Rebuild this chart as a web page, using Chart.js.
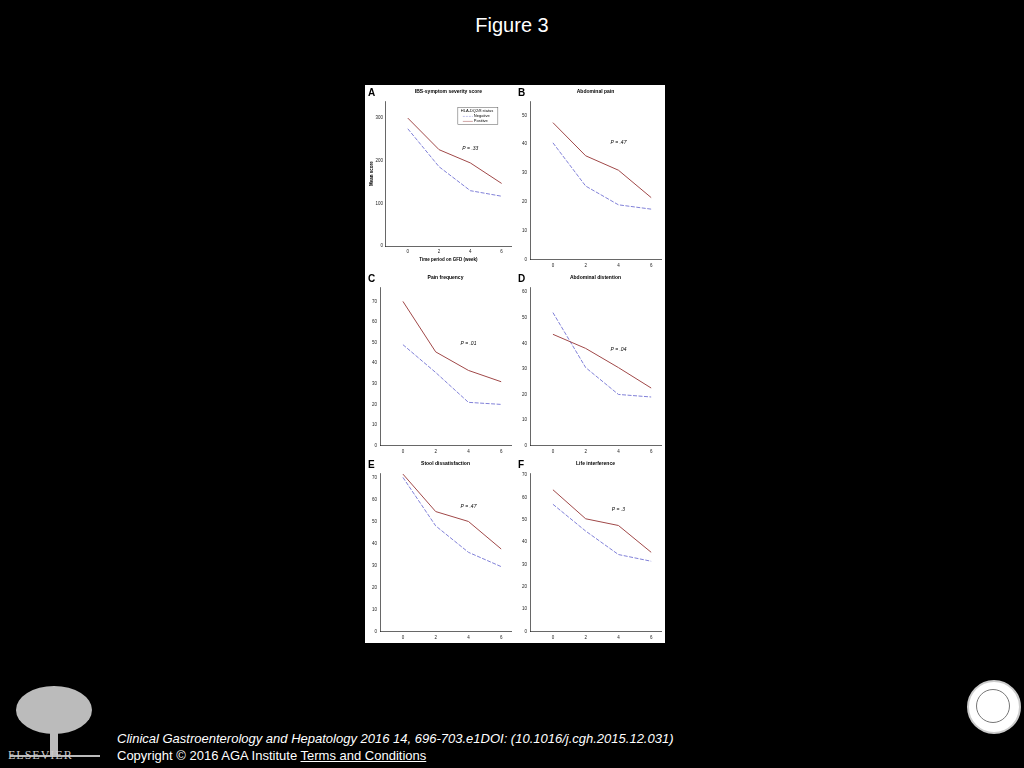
<!DOCTYPE html>
<html><head><meta charset="utf-8">
<script src="https://cdn.jsdelivr.net/npm/chart.js@4"></script>
<style>
body{margin:0;width:1024px;height:768px;background:#000;position:relative;overflow:hidden;font-family:"Liberation Sans",Arial,sans-serif;}
#title{position:absolute;top:14px;left:0;width:1024px;text-align:center;color:#fff;font-size:20px;}
#panel{position:absolute;left:365px;top:85px;width:300px;height:558px;background:#fff;}
.c{position:absolute;width:150px;height:186px;}
#cite{position:absolute;left:117px;top:731px;color:#fff;font-size:13px;font-style:italic;}
#copy{position:absolute;left:117px;top:748px;color:#fff;font-size:13px;}
#copy u{color:#fff;}
#logo{position:absolute;left:10px;top:680px;width:90px;height:85px;}
#seal{position:absolute;left:967px;top:680px;width:50px;height:50px;border-radius:50%;border:2px solid #ccc;background:#fff;}
#seal div{position:absolute;left:7px;top:7px;width:32px;height:32px;border-radius:50%;border:1px solid #777;}
#elsev{position:absolute;left:8px;top:748px;color:#ccc;font-family:"Liberation Serif",serif;font-size:12px;letter-spacing:1px;}
</style></head><body>
<div id="title">Figure 3</div>
<div id="panel">
<div class="c" style="left:0;top:0"><canvas id="cA"></canvas></div>
<div class="c" style="left:150px;top:0"><canvas id="cB"></canvas></div>
<div class="c" style="left:0;top:186px"><canvas id="cC"></canvas></div>
<div class="c" style="left:150px;top:186px"><canvas id="cD"></canvas></div>
<div class="c" style="left:0;top:372px"><canvas id="cE"></canvas></div>
<div class="c" style="left:150px;top:372px"><canvas id="cF"></canvas></div>
</div>
<svg id="logo" viewBox="0 0 90 85"><g fill="#bbb"><rect x="40" y="40" width="8" height="35"/><ellipse cx="44" cy="30" rx="38" ry="24"/></g><rect x="0" y="75" width="90" height="2" fill="#bbb"/></svg>
<div id="elsev">ELSEVIER</div>
<div id="seal"><div></div></div>
<div id="cite">Clinical Gastroenterology and Hepatology 2016 14, 696-703.e1DOI: (10.1016/j.cgh.2015.12.031)</div>
<div id="copy">Copyright © 2016 AGA Institute <u>Terms and Conditions</u></div>
<script>
const weeks=[0,2,4,6];
const titles=["IBS-symptom severity score","Abdominal pain","Pain frequency","Abdominal distention","Stool dissatisfaction","Life interference"];
const letters=["A","B","C","D","E","F"];
const positiveA=[300,226,195,147], negativeA=[275,186,130,117];
const positiveB=[47.5,36,31,21.5], negativeB=[40.5,25.5,19,17.5];
const positiveC=[70,45.5,36.5,31], negativeC=[49,35.5,21,20];
const positiveD=[43.5,38,30.5,22.5], negativeD=[52,30.5,20,19];
const positiveE=[71.5,54.5,50,37.5], negativeE=[70,48,36,29.5];
const positiveF=[63.5,50.5,47.5,35.5], negativeF=[57,45,34.5,31.5];
const pvalues=["P = .33","P = .47","P = .01","P = .04","P = .47","P = .3"];
const yMax=[340,55,77,62,72,71], yStep=[100,10,10,10,10,10];
const pPos=[[4,226],[4,40],[4,49],[4,37],[4,56],[4,54]];
const pos=[positiveA,positiveB,positiveC,positiveD,positiveE,positiveF];
const neg=[negativeA,negativeB,negativeC,negativeD,negativeE,negativeF];
const ids=["cA","cB","cC","cD","cE","cF"];
const F={family:"Liberation Sans",size:4.5};
ids.forEach((id,i)=>{
 const annot={id:'annot',afterDraw(ch){
  const c=ch.ctx,xs=ch.scales.x,ys=ch.scales.y;
  c.save();c.fillStyle='#000';
  c.font='bold 10px Liberation Sans';c.fillText(letters[i],3,11);
  c.font='bold 5px Liberation Sans';c.textAlign='center';
  c.fillText(titles[i],(ch.chartArea.left+ch.chartArea.right)/2,8);
  c.font='italic 5px Liberation Sans';
  c.fillText(pvalues[i],xs.getPixelForValue(pPos[i][0]),ys.getPixelForValue(pPos[i][1]));
  if(i===0){
   const x0=xs.getPixelForValue(3.2),y0=ys.getPixelForValue(325);
   c.strokeStyle='#555';c.lineWidth=0.5;c.strokeRect(x0,y0,40,17);
   c.textAlign='left';c.font='4px Liberation Sans';
   c.fillText('HLA-DQ2/8 status',x0+3,y0+5);
   c.fillText('Negative',x0+16,y0+10);c.fillText('Positive',x0+16,y0+15);
   c.setLineDash([2,1]);c.strokeStyle='#8080d8';c.beginPath();c.moveTo(x0+5,y0+9);c.lineTo(x0+15,y0+9);c.stroke();
   c.setLineDash([]);c.strokeStyle='#a04848';c.beginPath();c.moveTo(x0+5,y0+14);c.lineTo(x0+15,y0+14);c.stroke();
  }
  c.restore();}};
 new Chart(document.getElementById(id),{type:'line',
  data:{datasets:[
   {data:weeks.map((w,k)=>({x:w,y:pos[i][k]})),borderColor:'#a04848',borderWidth:1,pointRadius:0,fill:false},
   {data:weeks.map((w,k)=>({x:w,y:neg[i][k]})),borderColor:'#8080d8',borderWidth:1,borderDash:[4,1.5],pointRadius:0,fill:false}]},
  options:{responsive:true,maintainAspectRatio:false,animation:false,
   layout:{padding:{top:16,right:4,left:i===0?4:6,bottom:i===0?8:2}},
   plugins:{legend:{display:false},tooltip:{enabled:false}},
   scales:{
    x:{type:'linear',min:-1.4,max:6.6,afterBuildTicks(ax){ax.ticks=weeks.map(v=>({value:v}));},
     grid:{display:false,drawTicks:true,tickLength:2,tickColor:'#000'},border:{color:'#000',width:0.6},
     ticks:{font:F,color:'#222',padding:1},
     title:{display:i===0,text:'Time period on GFD (week)',font:{family:'Liberation Sans',size:4.5,weight:'bold'},color:'#000',padding:1}},
    y:{min:0,max:yMax[i],afterBuildTicks(ax){const t=[];for(let v=0;v<=yMax[i];v+=yStep[i])t.push({value:v});ax.ticks=t;},
     grid:{display:false,drawTicks:true,tickLength:2,tickColor:'#000'},border:{color:'#000',width:0.6},
     ticks:{font:F,color:'#222',padding:1},
     title:{display:i===0,text:'Mean score',font:{family:'Liberation Sans',size:4.5,weight:'bold'},color:'#000',padding:0}}}},
  plugins:[annot]});
});
</script>
</body></html>
